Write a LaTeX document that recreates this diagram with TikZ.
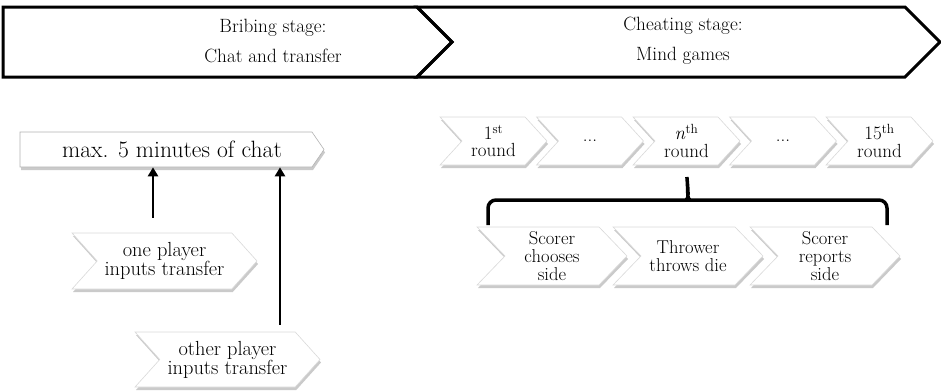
\documentclass[tikz,border=0pt]{standalone}
\usepackage{fontspec}
\usetikzlibrary{shapes.symbols,shadows,arrows.meta}
\tikzset{
    stage/.style={signal, draw=black, line width=3pt, signal to=east,
        signal pointer angle=90, minimum height=70pt, inner sep=0pt},
    stagetext/.style={align=center, font=\fontsize{19.2}{30}\selectfont},
    chev/.style={signal, signal from=west, signal to=east, fill=white,
        draw=gray!30, line width=0.6pt, inner sep=0pt, align=center,
        drop shadow={shadow xshift=1pt, shadow yshift=-3pt, fill=gray!70, opacity=0.6}},
    flow/.style={line width=2.5pt, -{Triangle[width=10pt,length=9pt]}},
}
\begin{document}
\begin{tikzpicture}[x=1pt,y=-1pt]
    \useasboundingbox (0,0) rectangle (941,391);

    % stages
    \node (bribe) [stage, minimum width=449pt] at (210,42) {};
    \node (cheat) [stage, signal from=west, minimum width=523pt] at (678.5,42) {};
    \node (bribetxt) [stagetext] at (273,41) {Bribing stage:\\Chat and transfer};
    \node (cheattxt) [stagetext] at (683,41) {Cheating stage:\\Mind games};

    % bribing: chat and transfers
    \node (chat) [chev, signal from=nowhere, draw=gray!60, signal pointer angle=111,
        minimum width=304pt, minimum height=35pt, font=\fontsize{23.6}{24}\selectfont]
        at (166,149.5) {\hspace*{12pt}max. 5 minutes of chat};
    \node (one) [chev, signal pointer angle=96, minimum width=185pt, minimum height=56pt,
        font=\fontsize{20.4}{19}\selectfont] at (164.5,261) {one player\\inputs transfer};
    \node (other) [chev, signal pointer angle=96, minimum width=185pt, minimum height=55pt,
        font=\fontsize{20.4}{19}\selectfont] at (227.5,359.5) {other player\\inputs transfer};

    \coordinate (onetop) at ([shift={(-11.5,-15)}]one.north);
    \coordinate (othertop) at ([shift={(52.5,-7)}]other.north);
    \draw[flow] (onetop) -- (onetop |- chat.south);
    \draw[flow] (othertop) -- (othertop |- chat.south);

    % cheating: rounds
    \foreach \name/\x/\txt in {round1/493.5/{1\textsuperscript{st}\\round},
                               dots1/590/{...},
                               roundn/686.5/{\textit{n}\textsuperscript{th}\\round},
                               dots2/783/{...},
                               round15/879.5/{15\textsuperscript{th}\\round}}
        \node (\name) [chev, signal pointer angle=95, minimum width=107pt, minimum height=48pt,
            font=\fontsize{19}{17.5}\selectfont] at (\x,141) {\txt};

    % one round in detail
    \draw[line width=3.5pt, rounded corners=8pt] (488,225) |- (682,200)
        .. controls (687,200) and (688,190) .. ([yshift=-7pt]roundn.south)
        .. controls (688,190) and (689,200) .. (694,200) -| (887,225);

    \foreach \i/\x/\txt in {1/552/{Scorer\\chooses\\side},
                            2/688/{Thrower\\throws die},
                            3/825/{Scorer\\reports\\side}}
        \node (sub\i) [chev, signal pointer angle=92, minimum width=150pt, minimum height=58pt,
            font=\fontsize{18.6}{18.3}\selectfont] at (\x,256) {\txt};
\end{tikzpicture}
\end{document}
